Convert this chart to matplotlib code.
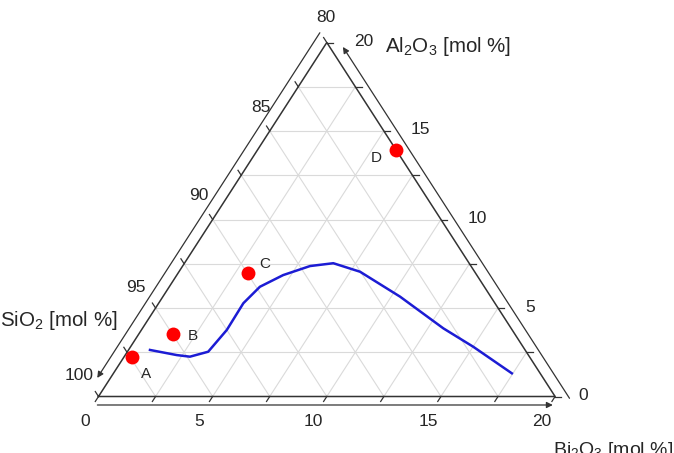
import numpy as np
import matplotlib
matplotlib.use('Agg')
import matplotlib.pyplot as plt

plt.rcParams['font.family'] = ['Liberation Sans', 'DejaVu Sans']
plt.rcParams['mathtext.fontset'] = 'custom'
plt.rcParams['mathtext.rm'] = 'Liberation Sans'
plt.rcParams['mathtext.it'] = 'Liberation Sans:italic'

# ---- data (mol %) ----
point_labels = ['A', 'B', 'C', 'D']
point_bi2o3 = [0.35, 1.5, 3.05, 6.05]
point_al2o3 = [2.25, 3.55, 7.0, 13.95]

curve_bi2o3 = [0.94, 2.26, 2.88, 3.54, 3.74, 3.71, 3.97, 4.66, 5.58, 6.52, 7.93, 10.39, 13.18, 15.01, 17.45]
curve_al2o3 = [2.63, 2.34, 2.25, 2.53, 3.76, 5.27, 6.20, 6.86, 7.37, 7.53, 7.05, 5.64, 3.85, 2.81, 1.31]

bi_tick_labels = [0, 5, 10, 15, 20]
al_tick_labels = [0, 5, 10, 15, 20]
si_tick_labels = [100, 95, 90, 85, 80]
span = 20.0          # range of each axis (SiO2 80-100, others 0-20)
grid_step = 2.5

def tern(b, a):
    b = np.asarray(b, float); a = np.asarray(a, float)
    return b + a / 2.0, a

fig = plt.figure(figsize=(6.74, 4.53), dpi=100)
ax = fig.add_axes([0, 0, 1, 1])
sx, sy = 22.83, 17.7
x0, y0 = 98.5, 396.5
ax.set_xlim(-x0 / sx, (674 - x0) / sx)
ax.set_ylim(-(453 - y0) / sy, y0 / sy)
ax.axis('off')

grid_col = '#dadada'
edge_col = '#333333'
txt_col = '#262626'

# grid lines
for v in np.arange(grid_step, span, grid_step):
    X, Y = tern([0, span - v], [v, v]); ax.plot(X, Y, color=grid_col, lw=0.8, zorder=1)
    X, Y = tern([v, v], [0, span - v]); ax.plot(X, Y, color=grid_col, lw=0.8, zorder=1)
    X, Y = tern([v, 0], [0, v]); ax.plot(X, Y, color=grid_col, lw=0.8, zorder=1)

# triangle edges
X, Y = tern([0, span, 0, 0], [0, 0, span, 0])
ax.plot(X, Y, color=edge_col, lw=1.1, zorder=2, solid_joinstyle='miter')

# ticks
tl = 0.28
for v in np.arange(0, span + 0.01, grid_step):
    X, Y = tern([v], [0])
    ax.plot([X[0], X[0] - 0.5 * tl], [Y[0], Y[0] - tl], color=edge_col, lw=0.9, zorder=2)
    X, Y = tern([span - v], [v])
    ax.plot([X[0], X[0] + tl], [Y[0], Y[0]], color=edge_col, lw=0.9, zorder=2)
    X, Y = tern([0], [v])
    ax.plot([X[0], X[0] - 0.5 * tl], [Y[0], Y[0] + tl], color=edge_col, lw=0.9, zorder=2)

# outer axis lines with arrows
off_b, off_s = 0.48, 0.58
ap = dict(arrowstyle='-|>', lw=0.9, color=edge_col, mutation_scale=9, shrinkA=0, shrinkB=0)
ax.annotate('', xy=(span - 0.1, -off_b), xytext=(-0.05, -off_b), arrowprops=ap)
ax.annotate('', xy=(1.05 / 2 - off_s, 1.05), xytext=(20.55 / 2 - off_s, 20.55), arrowprops=ap)
ax.annotate('', xy=(span - 19.75 / 2 + off_s, 19.75), xytext=(span + 0.1 / 2 + off_s, -0.1), arrowprops=ap)

fs = 12.5
# tick labels
for v in bi_tick_labels:
    X, Y = tern([v], [0])
    ax.annotate(str(v), (X[0], Y[0]), xytext=(-13, -25), textcoords='offset pixels',
                ha='center', va='center', fontsize=fs, color=txt_col)
for v in al_tick_labels:
    X, Y = tern([span - v], [v])
    ax.annotate(str(v), (X[0], Y[0]), xytext=(27 if v else 23, 1), textcoords='offset pixels',
                ha='left', va='center', fontsize=fs, color=txt_col)
si_offsets = [(-19, 21.5), (-20, 20.5), (-14, 23.5), (-9, 23), (-1, 24.5)]
for v, off in zip(si_tick_labels, si_offsets):
    X, Y = tern([0], [100 - v])
    ax.annotate(str(v), (X[0], Y[0]), xytext=off, textcoords='offset pixels',
                ha='center', va='center', fontsize=fs, color=txt_col)

# axis titles
Xl, Yl = tern([0], [0])
ax.annotate(r'SiO$_\mathregular{2}$ [mol %]', (Xl[0], Yl[0]), xytext=(-99, 76),
            textcoords='offset pixels', ha='left', va='center', fontsize=14.8, color=txt_col)
Xt, Yt = tern([0], [span])
ax.annotate(r'Al$_\mathregular{2}$O$_\mathregular{3}$ [mol %]', (Xt[0], Yt[0]), xytext=(58, -4),
            textcoords='offset pixels', ha='left', va='center', fontsize=14.8, color=txt_col)
Xr, Yr = tern([span], [0])
ax.annotate(r'Bi$_\mathregular{2}$O$_\mathregular{3}$ [mol %]', (Xr[0], Yr[0]), xytext=(-2, -54),
            textcoords='offset pixels', ha='left', va='center', fontsize=14, color=txt_col)

# curve
X, Y = tern(curve_bi2o3, curve_al2o3)
ax.plot(X, Y, color='#1c1cd4', lw=1.8, zorder=3)

# points
X, Y = tern(point_bi2o3, point_al2o3)
ax.plot(X, Y, 'o', color='#ff0000', ms=10, mec='none', zorder=4)
lab_off = {'A': (14, -17), 'B': (20, -2), 'C': (17, 9), 'D': (-20, -8)}
for lab, x, y in zip(point_labels, X, Y):
    ax.annotate(lab, (x, y), xytext=lab_off[lab], textcoords='offset pixels',
                ha='center', va='center', fontsize=11, color=txt_col)

fig.savefig('out.png', dpi=100)
